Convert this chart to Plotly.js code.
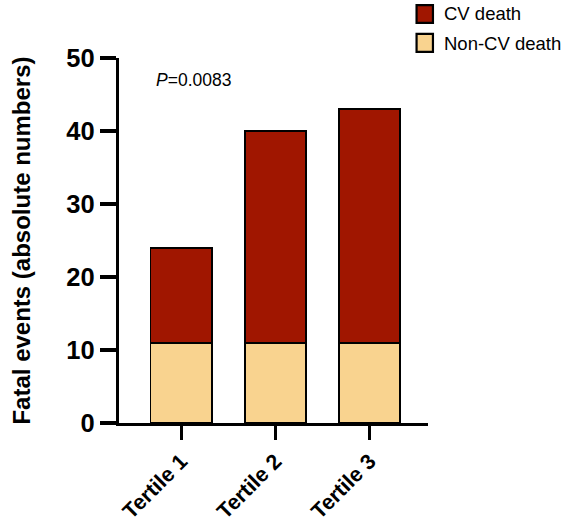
<!DOCTYPE html>
<html>
<head>
<meta charset="utf-8">
<script src="https://cdn.plot.ly/plotly-3.0.1.min.js"></script>
<style>html,body{margin:0;padding:0;background:#fff;}#chart{width:565px;height:527px;}</style>
</head>
<body>
<div id="chart"></div>
<script>
const categories = ["Tertile 1", "Tertile 2", "Tertile 3"];
const nonCvDeath = [11, 11, 11];
const cvDeath = [13, 29, 32];
const seriesNames = ["Non-CV death", "CV death"];
const seriesColors = ["#F9D38F", "#A01600"];
const yTicks = [0, 10, 20, 30, 40, 50];
const pValueText = "<i>P</i>=0.0083";

const FONT = "Arial, 'Liberation Sans', Helvetica, sans-serif";

const traces = [
  {
    type: "bar", x: categories, y: nonCvDeath, name: seriesNames[0],
    marker: {color: seriesColors[0], line: {color: "#000", width: 1.8}},
    width: 0.65, showlegend: false
  },
  {
    type: "bar", x: categories, y: cvDeath, name: seriesNames[1],
    marker: {color: seriesColors[1], line: {color: "#000", width: 1.8}},
    width: 0.65, showlegend: false
  }
];

// manual legend (CV death on top, Non-CV death below), in paper coordinates
const legendRows = [
  {name: seriesNames[1], color: seriesColors[1], yTop: 1.145, yBot: 1.096, yText: 1.121},
  {name: seriesNames[0], color: seriesColors[0], yTop: 1.066, yBot: 1.017, yText: 1.041}
];
const shapes = legendRows.map(r => ({
  type: "rect", xref: "paper", yref: "paper",
  x0: 0.963, x1: 1.016, y0: r.yBot, y1: r.yTop,
  fillcolor: r.color, line: {color: "#000", width: 2.2}, layer: "above"
}));
const annotations = legendRows.map(r => ({
  xref: "paper", yref: "paper", x: 1.046, y: r.yText,
  xanchor: "left", yanchor: "middle", showarrow: false,
  text: r.name, font: {family: FONT, size: 18.5, color: "#000"}
}));
annotations.push({
  xref: "paper", yref: "paper", x: 0.112, y: 0.94, xanchor: "left", yanchor: "middle",
  text: pValueText, showarrow: false, font: {family: FONT, size: 17.5, color: "#000"}
});

const layout = {
  width: 565, height: 527,
  margin: {l: 119, r: 137, t: 58, b: 104, pad: 0, autoexpand: false},
  paper_bgcolor: "#fff", plot_bgcolor: "#fff",
  barmode: "stack",
  font: {family: FONT, color: "#000"},
  showlegend: false,
  xaxis: {
    type: "category",
    range: [-0.66, 2.62],
    showline: true, linecolor: "#000", linewidth: 3.2,
    ticks: "outside", ticklen: 14, tickwidth: 3.2, tickcolor: "#000",
    tickangle: -45,
    tickfont: {family: FONT, size: 21.5, color: "#000", weight: "bold"},
    showgrid: false, zeroline: false, fixedrange: true
  },
  yaxis: {
    range: [0, 50],
    tickvals: yTicks, ticktext: yTicks.map(String),
    showline: true, linecolor: "#000", linewidth: 3.2,
    ticks: "outside", ticklen: 16, tickwidth: 3.2, tickcolor: "#000",
    tickfont: {family: FONT, size: 25.5, color: "#000", weight: "bold"},
    showgrid: false, zeroline: false,
    title: {text: "<b>Fatal events (absolute numbers)</b>", font: {family: FONT, size: 24, color: "#000"}, standoff: 30},
    fixedrange: true
  },
  shapes: shapes,
  annotations: annotations
};

Plotly.newPlot("chart", traces, layout, {displayModeBar: false, staticPlot: true});
</script>
</body>
</html>
